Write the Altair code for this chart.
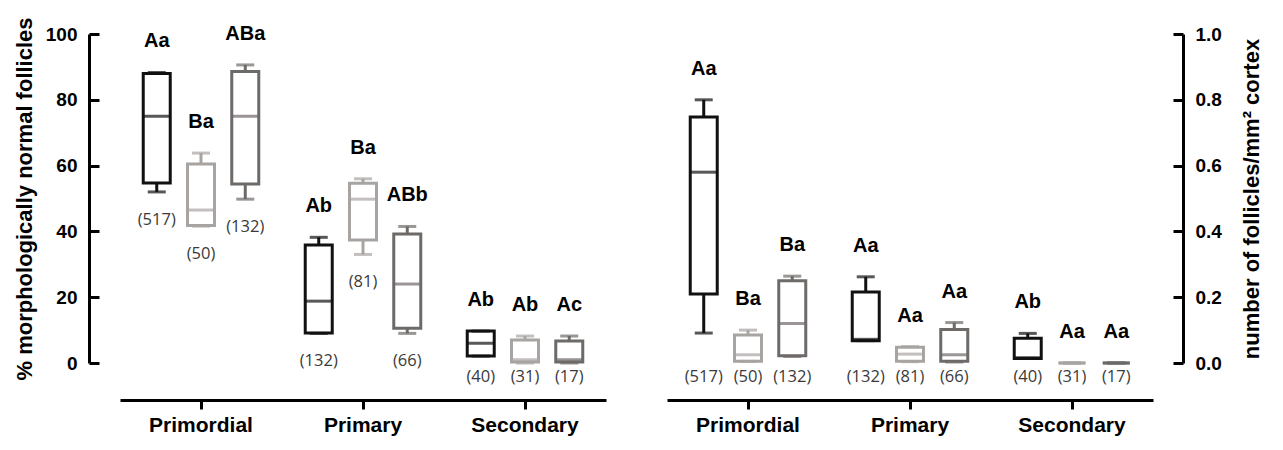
import altair as alt
import pandas as pd

stages = ["Primordial", "Primary", "Secondary"]
groups = ["Group 1", "Group 2", "Group 3"]
group_colors = ["#111111", "#a8a4a2", "#6d6a68"]
n_counts = [517, 50, 132, 132, 81, 66, 40, 31, 17]

# left panel: % morphologically normal follicles (box summaries, stage x group)
pct_lo = [52.0, 41.6, 49.8, 9.0, 33.0, 9.0, 2.1, 0.0, 0.0]
pct_q1 = [54.7, 41.8, 54.4, 9.1, 37.4, 10.6, 2.1, 0.3, 0.3]
pct_med = [75.0, 46.5, 75.0, 18.8, 49.8, 24.0, 6.0, 1.0, 1.0]
pct_q3 = [88.0, 60.5, 88.6, 35.9, 54.6, 39.2, 9.7, 7.0, 6.7]
pct_hi = [88.3, 63.8, 90.6, 38.2, 56.0, 41.5, 9.7, 8.2, 8.2]
pct_letters = ["Aa", "Ba", "ABa", "Ab", "Ba", "ABb", "Ab", "Ab", "Ac"]

# right panel: number of follicles / mm2 cortex
den_lo = [0.091, 0.005, 0.020, 0.068, 0.004, 0.003, 0.014, 0.0, 0.0]
den_q1 = [0.210, 0.005, 0.022, 0.068, 0.005, 0.005, 0.014, 0.0, 0.0]
den_med = [0.580, 0.025, 0.120, 0.072, 0.027, 0.025, 0.016, 0.0, 0.0]
den_q3 = [0.748, 0.085, 0.250, 0.216, 0.048, 0.102, 0.075, 0.0, 0.0]
den_hi = [0.800, 0.100, 0.264, 0.262, 0.050, 0.123, 0.090, 0.0, 0.0]
den_letters = ["Aa", "Ba", "Ba", "Aa", "Aa", "Aa", "Ab", "Aa", "Aa"]

stage_col = [s for s in stages for _ in groups]
group_col = groups * len(stages)
n_labels = ["(%d)" % n for n in n_counts]

W = 486
H = 329
FONT = "Liberation Sans"


def make_df(lo, q1, med, q3, hi, letters):
    return pd.DataFrame({
        "stage": stage_col, "group": group_col,
        "lo": lo, "q1": q1, "med": med, "q3": q3, "hi": hi,
        "letters": letters, "nlab": n_labels,
    })


def panel(df, ymax, label_axis, tick_axis, nlab_expr):
    xaxis = alt.Axis(orient="bottom", offset=37, domainWidth=3, domainColor="black",
                     tickSize=9, tickWidth=3, tickColor="black", labelFont=FONT,
                     labelFontWeight="bold", labelFontSize=21, labelColor="black",
                     labelPadding=5, title=None, labelAngle=0, grid=False)
    x = alt.X("stage:N", sort=stages,
              scale=alt.Scale(domain=stages, paddingInner=0, paddingOuter=0), axis=xaxis)
    xo = alt.XOffset("group:N", sort=groups,
                     scale=alt.Scale(domain=groups, paddingInner=0.39, paddingOuter=0.525))
    ys = alt.Scale(domain=[0, ymax], nice=False, zero=True)
    col = alt.Color("group:N", scale=alt.Scale(domain=groups, range=group_colors), legend=None)
    stroke = alt.Stroke("group:N", scale=alt.Scale(domain=groups, range=group_colors), legend=None)
    base = alt.Chart(df)

    box = base.mark_bar(fill="white", strokeWidth=3).encode(
        x=x, xOffset=xo, y=alt.Y("q1:Q", scale=ys, axis=label_axis), y2="q3:Q", stroke=stroke)
    w_lo = base.mark_rule(strokeWidth=3).encode(
        x=x, xOffset=xo, y=alt.Y("lo:Q", scale=ys, axis=None), y2="q1:Q", color=col)
    w_hi = base.mark_rule(strokeWidth=3).encode(
        x=x, xOffset=xo, y=alt.Y("q3:Q", scale=ys, axis=None), y2="hi:Q", color=col)
    median = base.mark_tick(thickness=3, size=27).encode(
        x=x, xOffset=xo, y=alt.Y("med:Q", scale=ys, axis=tick_axis), color=col)
    cap_lo = base.mark_tick(thickness=3, size=18).encode(
        x=x, xOffset=xo, y=alt.Y("lo:Q", scale=ys, axis=None), color=col)
    cap_hi = base.mark_tick(thickness=3, size=18).encode(
        x=x, xOffset=xo, y=alt.Y("hi:Q", scale=ys, axis=None), color=col)
    letters = base.mark_text(font=FONT, fontWeight="bold", fontSize=20, dy=-31,
                             baseline="middle", color="black").encode(
        x=x, xOffset=xo, y=alt.Y("hi:Q", scale=ys, axis=None), text="letters:N")
    nl = base.transform_calculate(ny=nlab_expr).mark_text(
        font="Open Sans", fontSize=16.5, baseline="middle", color="#3a3a3a").encode(
        x=x, xOffset=xo, y=alt.Y("ny:Q", scale=ys, axis=None), text="nlab:N")

    return alt.layer(box, median, w_lo, w_hi, cap_lo, cap_hi, letters, nl).resolve_axis(
        y="independent").properties(width=W, height=H)


left_label_axis = alt.Axis(orient="left", offset=31, domain=False, ticks=False,
                           values=[0, 20, 40, 60, 80, 100], labelFont=FONT,
                           labelFontWeight="bold", labelFontSize=19, labelColor="black",
                           labelPadding=12, title="% morphologically normal follicles",
                           titleFont=FONT, titleFontSize=22, titleFontWeight="bold",
                           titleColor="black", titlePadding=9, grid=False)
left_tick_axis = alt.Axis(orient="right", offset=-(W + 31), values=[0, 20, 40, 60, 80, 100],
                          labels=False, domainWidth=3, domainColor="black", tickSize=10,
                          tickWidth=3, tickColor="black", title=None, grid=False)
right_label_axis = alt.Axis(orient="right", offset=30, domain=False, ticks=False,
                            values=[0, 0.2, 0.4, 0.6, 0.8, 1.0], format=".1f", labelFont=FONT,
                            labelFontWeight="bold", labelFontSize=19, labelColor="black",
                            labelPadding=12, title="number of follicles/mm² cortex",
                            titleFont=FONT, titleFontSize=22, titleFontWeight="bold",
                            titleColor="black", titlePadding=20, titleAngle=270,
                            titleBaseline="top", grid=False)
right_tick_axis = alt.Axis(orient="left", offset=-(W + 30), values=[0, 0.2, 0.4, 0.6, 0.8, 1.0],
                           labels=False, domainWidth=3, domainColor="black", tickSize=10,
                           tickWidth=3, tickColor="black", title=None, grid=False)

left = panel(make_df(pct_lo, pct_q1, pct_med, pct_q3, pct_hi, pct_letters), 100,
             left_label_axis, left_tick_axis, "max(datum.lo - 8.5, -4.2)")
right = panel(make_df(den_lo, den_q1, den_med, den_q3, den_hi, den_letters), 1.0,
              right_label_axis, right_tick_axis, "-0.042")

chart = alt.hconcat(left, right, spacing=61).properties(
    padding={"left": 5, "top": 8, "right": 5, "bottom": 5},
    background="white",
).configure_view(stroke=None)

chart.save("out.html", embed_options={"renderer": "svg", "actions": False})
